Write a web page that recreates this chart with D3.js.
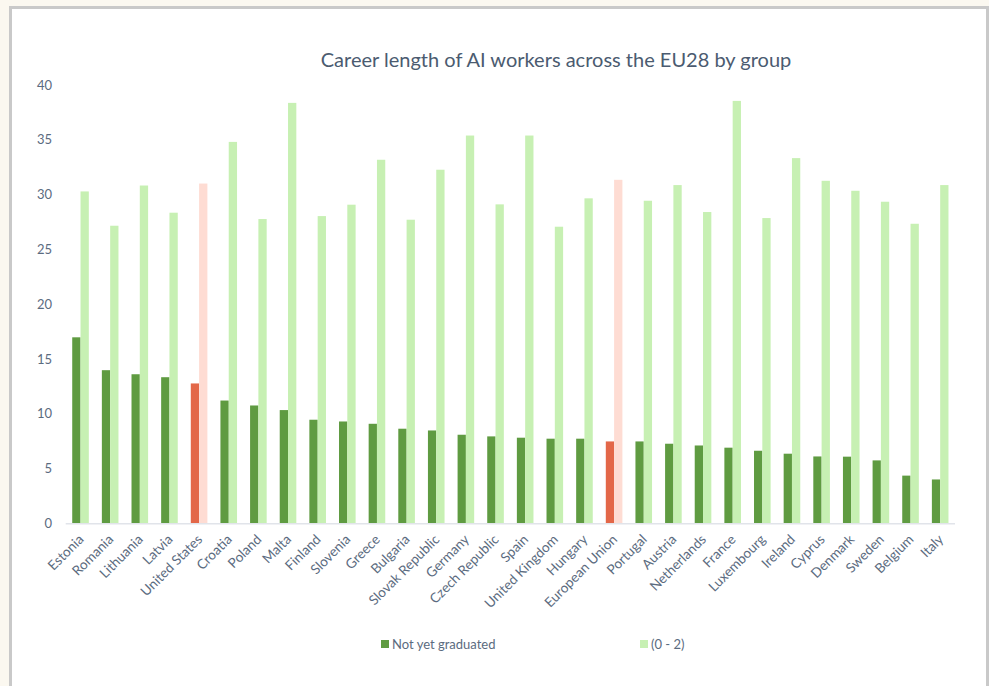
<!DOCTYPE html>
<html>
<head>
<meta charset="utf-8">
<script src="https://cdn.jsdelivr.net/npm/d3@7"></script>
<style>
  html, body { margin: 0; padding: 0; background: #fbf8f0; }
  svg { display: block; }
  text { font-family: Lato, "Open Sans", sans-serif; }
</style>
</head>
<body>
<svg id="chart" width="989" height="686"></svg>
<script>
const categories = ["Estonia","Romania","Lithuania","Latvia","United States","Croatia","Poland","Malta","Finland","Slovenia","Greece","Bulgaria","Slovak Republic","Germany","Czech Republic","Spain","United Kingdom","Hungary","European Union","Portugal","Austria","Netherlands","France","Luxembourg","Ireland","Cyprus","Denmark","Sweden","Belgium","Italy"];
const notYetGraduated = [16.97,13.97,13.6,13.33,12.76,11.2,10.75,10.33,9.45,9.29,9.08,8.63,8.47,8.08,7.93,7.81,7.72,7.72,7.47,7.47,7.26,7.1,6.9,6.62,6.35,6.1,6.08,5.74,4.35,4.0];
const zeroToTwo = [30.28,27.15,30.82,28.34,31.0,34.8,27.76,38.36,28.03,29.07,33.17,27.7,32.26,35.38,29.1,35.38,27.06,29.65,31.34,29.43,30.86,28.4,38.54,27.85,33.32,31.25,30.34,29.34,27.33,30.86];
const seriesNames = ["Not yet graduated", "(0 - 2)"];
const highlighted = ["United States", "European Union"];
const yTicks = [0,5,10,15,20,25,30,35,40];
const title = "Career length of AI workers across the EU28 by group";

const colors = { dark: "#5f9b41", light: "#c7f0b3", hiDark: "#e36748", hiLight: "#fedcd3" };
const textColor = "#5b6b80";

const svg = d3.select("#chart");

// panel
svg.append("rect").attr("x", 10.5).attr("y", 7.5).attr("width", 977).attr("height", 700)
  .attr("fill", "#ffffff").attr("stroke", "#c9c9c9").attr("stroke-width", 3);

const x0 = d3.scaleBand().domain(categories).range([65.7, 955]).paddingInner(0.44).paddingOuter(0.22);
const x1 = d3.scaleBand().domain(seriesNames).range([0, x0.bandwidth()]);
const y = d3.scaleLinear().domain([0, 40]).range([523.3, 84.9]);

const data = categories.map((c, i) => ({ cat: c, values: [notYetGraduated[i], zeroToTwo[i]] }));

// bars
const groups = svg.append("g").selectAll("g").data(data).join("g")
  .attr("transform", d => `translate(${x0(d.cat)},0)`);
groups.selectAll("rect").data(d => d.values.map((v, k) => ({ v, k, hi: highlighted.includes(d.cat) })))
  .join("rect")
  .attr("x", d => x1(seriesNames[d.k]))
  .attr("width", x1.bandwidth())
  .attr("y", d => y(d.v))
  .attr("height", d => y(0) - y(d.v))
  .attr("fill", d => d.hi ? (d.k === 0 ? colors.hiDark : colors.hiLight) : (d.k === 0 ? colors.dark : colors.light));

// x axis line
svg.append("line").attr("x1", 65.7).attr("x2", 955).attr("y1", y(0) + 0.5).attr("y2", y(0) + 0.5)
  .attr("stroke", "#e1e4ea").attr("stroke-width", 1.5);

// y axis labels
const yAxis = d3.axisLeft(y).tickValues(yTicks).tickSize(0).tickPadding(0);
const yg = svg.append("g").attr("transform", "translate(52,0)").call(yAxis);
yg.select(".domain").remove();
yg.selectAll("text").attr("fill", textColor).style("font-size", "13px").style("font-family", "Lato, sans-serif");

// x labels
const xAxis = d3.axisBottom(x0).tickSize(0).tickPadding(0);
const xg = svg.append("g").attr("transform", `translate(0,${y(0)})`).call(xAxis);
xg.select(".domain").remove();
xg.selectAll(".tick text")
  .attr("fill", textColor).style("font-size", "13.6px").style("font-family", "Lato, sans-serif")
  .attr("text-anchor", "end")
  .attr("dy", "0")
  .attr("y", 0)
  .attr("transform", "translate(4,17) rotate(-45)");

// title
svg.append("text").attr("x", 556).attr("y", 67).attr("text-anchor", "middle")
  .attr("fill", "#4b5b70").style("font-size", "20px").text(title);

// legend
const legend = [
  { name: seriesNames[0], color: colors.dark, x: 381 },
  { name: seriesNames[1], color: colors.light, x: 640 }
];
const lg = svg.append("g").selectAll("g").data(legend).join("g")
  .attr("transform", d => `translate(${d.x},640)`);
lg.append("rect").attr("width", 8).attr("height", 8).attr("fill", d => d.color);
lg.append("text").attr("x", 11).attr("y", 8.5).attr("fill", textColor)
  .style("font-size", "13px").text(d => d.name);
</script>
</body>
</html>
